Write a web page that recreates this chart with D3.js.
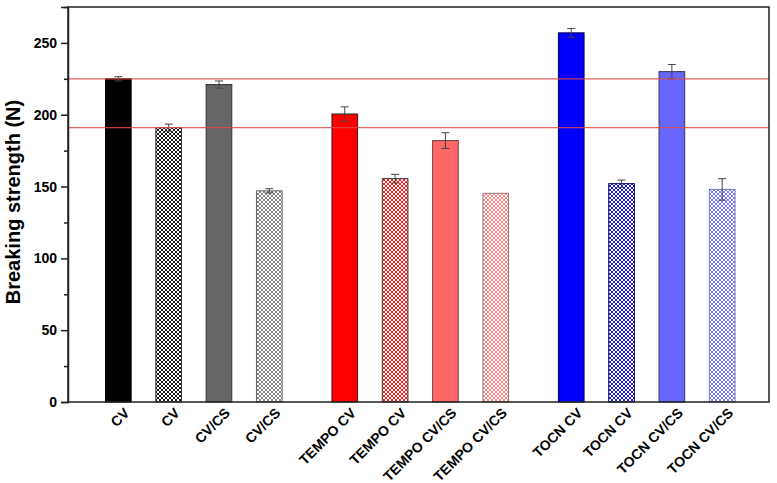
<!DOCTYPE html>
<html>
<head>
<meta charset="utf-8">
<script src="https://cdn.jsdelivr.net/npm/d3@7"></script>
<style>
  body { margin: 0; background: #fff; }
  text { font-family: Arial, "Liberation Sans", sans-serif; font-weight: bold; }
</style>
</head>
<body>
<div id="chart"></div>
<script>
// chart data
var labels = ["CV", "CV", "CV/CS", "CV/CS", "TEMPO CV", "TEMPO CV", "TEMPO CV/CS", "TEMPO CV/CS",
              "TOCN CV", "TOCN CV", "TOCN CV/CS", "TOCN CV/CS"];
var slots = [0, 1, 2, 3, 4.5, 5.5, 6.5, 7.5, 9, 10, 11, 12];
var values = [225, 191, 221, 147, 200.5, 155.5, 182, 145.3, 257, 152, 230, 148];
var errors = [1.5, 2.5, 2.5, 1.5, 5, 3, 5.5, 0, 3, 2.5, 5, 7.5];
var colors = ["#000000", "#000000", "#666666", "#777777", "#ff0000", "#ff0000", "#ff6666", "#ff7777",
              "#0000ff", "#0000cc", "#6666ff", "#6666ff"];
var borders = ["#000000", "#333333", "#333333", "#666666", "#222222", "#333333", "#664444", "#997777",
               "#000044", "#000066", "#333366", "#7777aa"];
var hatched = [false, true, false, true, false, true, false, true, false, true, false, true];
var refLines = [225, 191];
var yTicks = [0, 50, 100, 150, 200, 250];
var yMinor = [25, 75, 125, 175, 225, 275];

var W = 777, H = 483;
var mLeft = 68, mRight = 769, mTop = 7, mBottom = 402;

var svg = d3.select("#chart").append("svg")
  .attr("width", W)
  .attr("height", H);

var x = d3.scaleLinear().domain([-1, 12.93]).range([mLeft, mRight]);
var y = d3.scaleLinear().domain([0, 275]).range([mBottom, mTop]);
var barW = (x(1) - x(0)) * 0.51;

// hatch patterns, one per colour
var defs = svg.append("defs");
labels.forEach(function(l, i) {
  if (!hatched[i]) return;
  var p = defs.append("pattern")
    .attr("id", "hatch" + i)
    .attr("patternUnits", "userSpaceOnUse")
    .attr("width", 4)
    .attr("height", 4);
  p.append("rect").attr("width", 4).attr("height", 4).attr("fill", "#fff");
  p.append("path")
    .attr("d", "M0,0L4,4M4,0L0,4M-1,3L1,5M3,-1L5,1M-1,1L1,-1M3,5L5,3")
    .attr("stroke", colors[i])
    .attr("stroke-width", 0.9);
});

var data = labels.map(function(l, i) {
  return {label: l, slot: slots[i], value: values[i], err: errors[i], i: i};
});

// bars
svg.selectAll(".bar")
  .data(data)
  .enter()
  .append("rect")
  .attr("class", "bar")
  .attr("x", d => x(d.slot) - barW / 2)
  .attr("y", d => y(d.value))
  .attr("width", barW)
  .attr("height", d => y(0) - y(d.value))
  .attr("fill", d => hatched[d.i] ? "url(#hatch" + d.i + ")" : colors[d.i])
  .attr("stroke", d => borders[d.i])
  .attr("stroke-width", 1);

// error bars
var eb = svg.selectAll(".err")
  .data(data.filter(d => d.err > 0))
  .enter()
  .append("g")
  .attr("class", "err")
  .attr("stroke", "#444")
  .attr("stroke-width", 1);
eb.append("line")
  .attr("x1", d => x(d.slot)).attr("x2", d => x(d.slot))
  .attr("y1", d => y(d.value - d.err)).attr("y2", d => y(d.value + d.err));
eb.append("line")
  .attr("x1", d => x(d.slot) - 4).attr("x2", d => x(d.slot) + 4)
  .attr("y1", d => y(d.value + d.err)).attr("y2", d => y(d.value + d.err));
eb.append("line")
  .attr("x1", d => x(d.slot) - 4).attr("x2", d => x(d.slot) + 4)
  .attr("y1", d => y(d.value - d.err)).attr("y2", d => y(d.value - d.err));

// reference lines
svg.selectAll(".ref")
  .data(refLines)
  .enter()
  .append("line")
  .attr("class", "ref")
  .attr("x1", mLeft).attr("x2", mRight)
  .attr("y1", d => y(d)).attr("y2", d => y(d))
  .attr("stroke", "#e04848")
  .attr("stroke-opacity", 0.85)
  .attr("stroke-width", 1.2);

// frame
svg.append("rect")
  .attr("x", mLeft).attr("y", mTop)
  .attr("width", mRight - mLeft).attr("height", mBottom - mTop)
  .attr("fill", "none")
  .attr("stroke", "#222")
  .attr("stroke-width", 1.5);

// y axis
var yAxis = d3.axisLeft(y).tickValues(yTicks).tickSize(7).tickPadding(4);
var gy = svg.append("g")
  .attr("transform", "translate(" + mLeft + ",0)")
  .call(yAxis);
gy.select(".domain").attr("stroke", "#222").attr("stroke-width", 1.5);
gy.selectAll(".tick line").attr("stroke", "#222").attr("stroke-width", 1.5);
gy.selectAll("text").style("font-size", "14px").attr("fill", "#000");

var gMinor = svg.append("g")
  .attr("transform", "translate(" + mLeft + ",0)")
  .call(d3.axisLeft(y).tickValues(yMinor).tickSize(4).tickFormat(""));
gMinor.select(".domain").remove();
gMinor.selectAll(".tick line").attr("stroke", "#222").attr("stroke-width", 1.5);

// x labels
svg.selectAll(".xlab")
  .data(data)
  .enter()
  .append("text")
  .attr("class", "xlab")
  .attr("text-anchor", "end")
  .attr("transform", d => "translate(" + (x(d.slot) + 12) + "," + (mBottom + 12) + ") rotate(-45)")
  .style("font-size", "14px")
  .text(d => d.label);

// y label
svg.append("text")
  .attr("transform", "translate(20,202) rotate(-90)")
  .attr("text-anchor", "middle")
  .style("font-size", "20px")
  .text("Breaking strength (N)");
</script>
</body>
</html>
